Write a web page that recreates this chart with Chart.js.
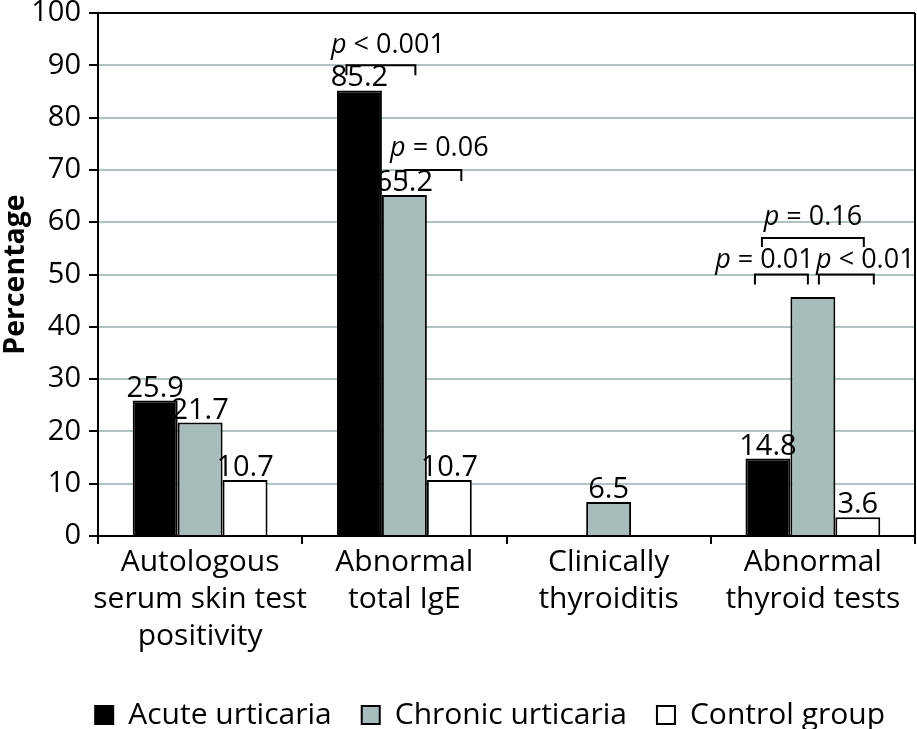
<!DOCTYPE html>
<html>
<head>
<meta charset="utf-8">
<script src="https://cdn.jsdelivr.net/npm/chart.js@4.4.0/dist/chart.umd.min.js"></script>
<style>
  html, body { margin: 0; padding: 0; background: #fff; }
  #wrap { width: 917px; height: 729px; }
</style>
</head>
<body>
<div id="wrap"><canvas id="grafico"></canvas></div>
<script>
const categorias = [
  ['Autologous', 'serum skin test', 'positivity'],
  ['Abnormal', 'total IgE'],
  ['Clinically', 'thyroiditis'],
  ['Abnormal', 'thyroid tests']
];
const series = ['Acute urticaria', 'Chronic urticaria', 'Control group'];
const agudo = [25.9, 85.2, 0, 14.8];
const cronico = [21.7, 65.2, 6.5, 45.7];
const controle = [10.7, 10.7, 0, 3.6];
const yTicks = [0, 10, 20, 30, 40, 50, 60, 70, 80, 90, 100];
// valores que nao aparecem escritos no grafico (dataset-indice)
const ocultos = ['1-3'];

// chaves com os valores de p
const pTextos = ['< 0.001', '= 0.06', '= 0.16', '= 0.01', '< 0.01'];
const pNivel = [90, 70, 57, 50, 50];
const chaves = [
  { cat: 1, de: 0, ate: 1, dx1: -13, dx2: 11, tx: 7, ty: -12, h: 10 },
  { cat: 1, de: 1, ate: 2, dx1: 1, dx2: 12, tx: 6, ty: -14, h: 11 },
  { cat: 3, de: 0, ate: 2, dx1: -6, dx2: 6, tx: 0, ty: -13, h: 9 },
  { cat: 3, de: 0, ate: 1, dx1: -13, dx2: -5, tx: -17, ty: -7, h: 10 },
  { cat: 3, de: 1, ate: 2, dx1: 6, dx2: 16, tx: 19, ty: -7, h: 10 }
];

const fonte = '"Open Sans", "Noto Sans", sans-serif';
const cinza = '#a9bcbc';
const grade = '#afc3c3';

const pluginAnotacoes = {
  id: 'anotacoes',
  afterDatasetsDraw(chart) {
    const ctx = chart.ctx;
    const escalaY = chart.scales.y;
    const area = chart.chartArea;
    ctx.save();

    // borda direita do quadro
    ctx.strokeStyle = '#000';
    ctx.lineWidth = 2;
    ctx.beginPath();
    ctx.moveTo(area.right, area.top);
    ctx.lineTo(area.right, area.bottom);
    ctx.stroke();

    // valores sobre as barras
    ctx.font = '29px ' + fonte;
    ctx.fillStyle = '#000';
    ctx.textAlign = 'center';
    ctx.textBaseline = 'alphabetic';
    chart.data.datasets.forEach((ds, i) => {
      chart.getDatasetMeta(i).data.forEach((bar, j) => {
        const v = ds.data[j];
        if (!v || ocultos.includes(i + '-' + j)) return;
        ctx.fillText(v.toFixed(1), bar.x, bar.y - 4);
      });
    });

    // chaves de significancia
    chaves.forEach((c, k) => {
      const a = chart.getDatasetMeta(c.de).data[c.cat];
      const b = chart.getDatasetMeta(c.ate).data[c.cat];
      const x1 = a.x + c.dx1;
      const x2 = b.x + c.dx2;
      const yy = escalaY.getPixelForValue(pNivel[k]);
      ctx.beginPath();
      ctx.lineWidth = 2;
      ctx.moveTo(x1, yy + c.h);
      ctx.lineTo(x1, yy);
      ctx.lineTo(x2, yy);
      ctx.lineTo(x2, yy + c.h);
      ctx.stroke();

      ctx.textAlign = 'left';
      ctx.font = 'italic 27px ' + fonte;
      const wp = ctx.measureText('p').width;
      ctx.font = '27px ' + fonte;
      const resto = ' ' + pTextos[k];
      const wr = ctx.measureText(resto).width;
      const x0 = (x1 + x2) / 2 + c.tx - (wp + wr) / 2;
      const yt = yy + c.ty;
      ctx.font = 'italic 27px ' + fonte;
      ctx.fillText('p', x0, yt);
      ctx.font = '27px ' + fonte;
      ctx.fillText(resto, x0 + wp, yt);
    });
    ctx.restore();
  }
};

new Chart(document.getElementById('grafico').getContext('2d'), {
  type: 'bar',
  data: {
    labels: categorias,
    datasets: [
      { label: series[0], data: agudo, backgroundColor: '#000', borderColor: '#000', borderWidth: 2 },
      { label: series[1], data: cronico, backgroundColor: cinza, borderColor: '#000', borderWidth: 2 },
      { label: series[2], data: controle, backgroundColor: '#fff', borderColor: '#000', borderWidth: 2 }
    ]
  },
  options: {
    responsive: true,
    maintainAspectRatio: false,
    animation: false,
    layout: { padding: { top: 13, right: 2, left: 0, bottom: -11 } },
    datasets: { bar: { categoryPercentage: 0.66, barPercentage: 1 } },
    scales: {
      x: {
        afterFit: (s) => { s.height = 134; },
        grid: { display: true, drawOnChartArea: false, drawTicks: true, tickLength: 8, tickColor: '#000', lineWidth: 2, offset: true },
        border: { display: true, color: '#000', width: 2 },
        ticks: { color: '#000', padding: 0, font: { family: fonte, size: 30, lineHeight: 1.23 }, maxRotation: 0, autoSkip: false }
      },
      y: {
        min: 0,
        max: 100,
        afterFit: (s) => { s.width = 98; s.paddingTop = 0; s.paddingBottom = 0; },
        afterBuildTicks: (s) => { s.ticks = yTicks.map(v => ({ value: v })); },
        grid: {
          color: (c) => (c.tick && (c.tick.value === 0 || c.tick.value === 100)) ? '#000' : grade,
          lineWidth: 2,
          tickLength: 9,
          tickColor: '#000'
        },
        border: { display: true, color: '#000', width: 2 },
        ticks: { color: '#000', padding: 8, font: { family: fonte, size: 29, lineHeight: 1 } },
        title: { display: true, text: 'Percentage', color: '#000', padding: 0, font: { family: fonte, size: 28.5, weight: 'bold', lineHeight: 1.1 } }
      }
    },
    plugins: {
      legend: {
        position: 'bottom',
        align: 'end',
        labels: { color: '#000', boxWidth: 18, boxHeight: 18, padding: 30, font: { family: fonte, size: 30 } }
      },
      tooltip: { enabled: false }
    }
  },
  plugins: [pluginAnotacoes]
});
</script>
</body>
</html>
